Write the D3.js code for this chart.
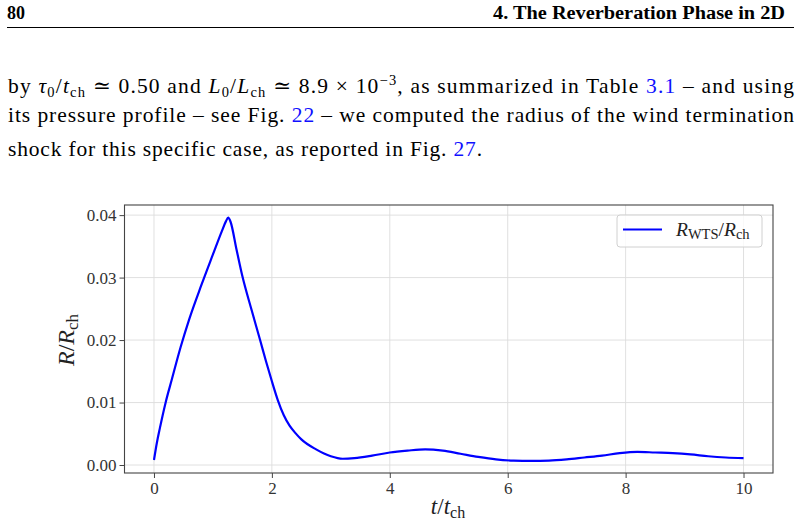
<!DOCTYPE html>
<html>
<head>
<meta charset="utf-8">
<script src="https://cdn.jsdelivr.net/npm/d3@7"></script>
<style>
  body { margin: 0; background: #fff; }
  svg { display: block; font-family: "Liberation Serif", "DejaVu Serif", serif; }
  .tick text { font-family: "Liberation Serif", serif; font-size: 17px; fill: #333; }
  .tick line { stroke: #444; }
  .domain { display: none; }
</style>
</head>
<body>
<svg id="page" width="802" height="530"></svg>
<script>
// values: R_WTS / R_ch against t / t_ch
var tValues = [0, 0.05, 0.1, 0.2, 0.3, 0.45, 0.6, 0.8, 1.0, 1.15, 1.22, 1.26, 1.3, 1.4, 1.5,
               1.65, 1.8, 1.9, 2.0, 2.1, 2.2, 2.3, 2.4, 2.5, 2.75, 3.0, 3.2, 3.4, 3.7, 4.0, 4.3,
               4.6, 4.9, 5.2, 5.5, 5.8, 6.1, 6.4, 6.7, 7.0, 7.3, 7.6, 7.9, 8.2, 8.5, 8.8,
               9.1, 9.4, 9.7, 10.0];
var rValues = [0.0008, 0.0036, 0.0059, 0.0101, 0.0136, 0.0188, 0.0234, 0.0287, 0.0337, 0.0374, 0.0390, 0.0396, 0.0389, 0.0345, 0.0302,
               0.0250, 0.0200, 0.0166, 0.0134, 0.0104, 0.0080, 0.0063, 0.0051, 0.0041, 0.0025, 0.0014, 0.0010, 0.0011, 0.0015, 0.0020, 0.0023,
               0.0025, 0.0023, 0.0018, 0.0013, 0.0009, 0.0007, 0.00065, 0.0007, 0.0009, 0.0012, 0.0015, 0.0019, 0.0021, 0.0020, 0.0019,
               0.0017, 0.0014, 0.0012, 0.0011];
var xTicks = [0, 2, 4, 6, 8, 10];
var yTicks = [0.00, 0.01, 0.02, 0.03, 0.04];

// page text
var headerLeft = "80";
var headerRight = "4. The Reverberation Phase in 2D";
// n = normal, i = italic, sub / sup, link = blue reference
var paraLines = [
  [["by ", "n"], ["τ", "i"], ["0", "sub"], ["/", "n"], ["t", "i"], ["ch", "sub"], [" ≃ 0.50 and ", "n"],
   ["L", "i"], ["0", "sub"], ["/", "n"], ["L", "i"], ["ch", "sub"], [" ≃ 8.9 × 10", "n"], ["−3", "sup"],
   [", as summarized in Table ", "n"], ["3.1", "link"], [" – and using", "n"]],
  [["its pressure profile – see Fig. ", "n"], ["22", "link"], [" – we computed the radius of the wind termination", "n"]],
  [["shock for this specific case, as reported in Fig. ", "n"], ["27", "link"], [".", "n"]]
];

var svg = d3.select("#page");
svg.append("rect").attr("width", 802).attr("height", 530).attr("fill", "#fff");

// running header
svg.append("text").attr("x", 7).attr("y", 19)
   .attr("font-weight", "bold").attr("font-size", 18).text(headerLeft);
svg.append("text").attr("x", 785).attr("y", 19).attr("text-anchor", "end")
   .attr("font-weight", "bold").attr("font-size", 18)
   .attr("textLength", 292).attr("lengthAdjust", "spacingAndGlyphs").text(headerRight);
svg.append("line").attr("x1", 7).attr("x2", 794).attr("y1", 27.5).attr("y2", 27.5)
   .attr("stroke", "#000").attr("stroke-width", 1);

// paragraph, with a little helper for sub/superscripts
function writeLine(segs, y, width) {
  var t = svg.append("text").attr("x", 8).attr("y", y)
             .attr("font-size", 21.5).style("white-space", "pre");
  var shift = 0;
  segs.forEach(function(s) {
    var span = t.append("tspan").text(s[0]);
    var want = s[1] == "sub" ? 4 : (s[1] == "sup" ? -8 : 0);
    if (want != shift) { span.attr("dy", want - shift); shift = want; }
    if (s[1] == "i") span.attr("font-style", "italic");
    if (s[1] == "sub" || s[1] == "sup") span.attr("font-size", 14.5);
    if (s[1] == "link") span.attr("fill", "#1010ff");
  });
  if (width) t.attr("textLength", width).attr("lengthAdjust", "spacing");
}
writeLine(paraLines[0], 93, 786);
writeLine(paraLines[1], 122, 786);
writeLine(paraLines[2], 156, 474);

// chart box
var plotL = 124.5, plotR = 773, plotT = 205, plotB = 473;

var xScale = d3.scaleLinear().domain([-0.5, 10.5]).range([plotL, plotR]);
var yScale = d3.scaleLinear().domain([-0.00128, 0.04162]).range([plotB, plotT]);

var chart = svg.append("g");

// grid
chart.selectAll(".gx").data(xTicks).enter().append("line")
   .attr("x1", function(d) { return xScale(d); }).attr("x2", function(d) { return xScale(d); })
   .attr("y1", plotT).attr("y2", plotB)
   .attr("stroke", "#dcdcdc").attr("stroke-width", 0.9);
chart.selectAll(".gy").data(yTicks).enter().append("line")
   .attr("x1", plotL).attr("x2", plotR)
   .attr("y1", function(d) { return yScale(d); }).attr("y2", function(d) { return yScale(d); })
   .attr("stroke", "#dcdcdc").attr("stroke-width", 0.9);

var line = d3.line()
   .x(function(d, i) { return xScale(tValues[i]); })
   .y(function(d) { return yScale(d); })
   .curve(d3.curveMonotoneX);

chart.append("path").datum(rValues)
   .attr("d", line).attr("fill", "none")
   .attr("stroke", "#0000ff").attr("stroke-width", 2.2);

// frame
chart.append("rect").attr("x", plotL).attr("y", plotT)
   .attr("width", plotR - plotL).attr("height", plotB - plotT)
   .attr("fill", "none").attr("stroke", "#444").attr("stroke-width", 1.1);

var xAxis = d3.axisBottom(xScale).tickValues(xTicks).tickSize(5).tickPadding(4)
              .tickFormat(d3.format("d"));
var yAxis = d3.axisLeft(yScale).tickValues(yTicks).tickSize(5).tickPadding(3)
              .tickFormat(d3.format(".2f"));

chart.append("g").attr("transform", "translate(0," + plotB + ")").call(xAxis);
chart.append("g").attr("transform", "translate(" + plotL + ",0)").call(yAxis);

// axis labels
var xl = svg.append("text").attr("x", 448).attr("y", 514).attr("text-anchor", "middle")
            .attr("font-size", 23).attr("fill", "#222");
xl.append("tspan").attr("font-style", "italic").text("t");
xl.append("tspan").text("/");
xl.append("tspan").attr("font-style", "italic").text("t");
xl.append("tspan").attr("font-size", 16).attr("dy", 4).text("ch");

var yl = svg.append("text").attr("transform", "translate(74,340) rotate(-90)")
            .attr("text-anchor", "middle").attr("font-size", 24).attr("fill", "#222");
yl.append("tspan").attr("font-style", "italic").text("R");
yl.append("tspan").text("/");
yl.append("tspan").attr("font-style", "italic").text("R");
yl.append("tspan").attr("font-size", 17).attr("dy", 4).text("ch");

// legend
var lg = svg.append("g");
lg.append("rect").attr("x", 617).attr("y", 215).attr("width", 145).attr("height", 32)
  .attr("rx", 3).attr("fill", "#fff").attr("fill-opacity", 0.8)
  .attr("stroke", "#d0d0d0").attr("stroke-width", 1);
lg.append("line").attr("x1", 623).attr("x2", 662).attr("y1", 229.5).attr("y2", 229.5)
  .attr("stroke", "#0000ff").attr("stroke-width", 2.2);
var lt = lg.append("text").attr("x", 676).attr("y", 236).attr("font-size", 19.5).attr("fill", "#222");
lt.append("tspan").attr("font-style", "italic").text("R");
lt.append("tspan").attr("font-size", 14.5).attr("dy", 3).text("WTS");
lt.append("tspan").attr("dy", -3).text("/");
lt.append("tspan").attr("font-style", "italic").text("R");
lt.append("tspan").attr("font-size", 14.5).attr("dy", 3).text("ch");
</script>
</body>
</html>
